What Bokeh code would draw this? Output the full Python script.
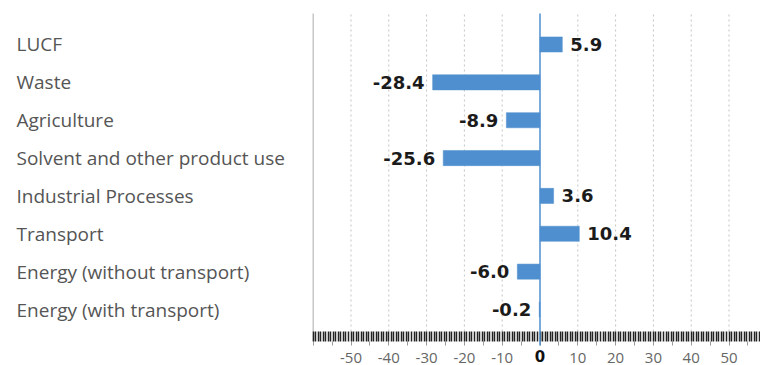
import numpy as np
from bokeh.plotting import figure
from bokeh.models import Range1d, FixedTicker, LinearAxis, ColumnDataSource
from bokeh.core.properties import value
from bokeh.embed import file_html
from bokeh.resources import INLINE

# ---- data ----
categories = [
    "LUCF",
    "Waste",
    "Agriculture",
    "Solvent and other product use",
    "Industrial Processes",
    "Transport",
    "Energy (without transport)",
    "Energy (with transport)",
]
values = [5.9, -28.4, -8.9, -25.6, 3.6, 10.4, -6.0, -0.2]
labelled_ticks = [-50, -40, -30, -20, -10, 10, 20, 30, 40, 50]
half_ticks = [-60, -55, -45, -35, -25, -15, -5, 0, 5, 15, 25, 35, 45, 55]
grid_ticks = [-50, -40, -30, -20, -10, 10, 20, 30, 40, 50]
axis_start, axis_end = -60, 58.33

# ---- layout constants (pixels -> data) ----
W, H = 760, 365
PX_X = 3.78          # px per x unit
PX_Y = 37.86         # px per category
ZERO_PX = 539.5      # page x of the zero line
LAST_PX = 309        # page y of the bottom category
x_lo = -ZERO_PX / PX_X
x_hi = (W - ZERO_PX) / PX_X
y_hi = LAST_PX / PX_Y
y_lo = -(H - LAST_PX) / PX_Y
axis_y = -(341 - LAST_PX) / PX_Y        # bottom of the tick band
band_top = axis_y + 10 / PX_Y
plot_top = (LAST_PX - 13) / PX_Y
zero_bottom = axis_y - 4 / PX_Y

n = len(categories)
ypos = [n - 1 - i for i in range(n)]

BLUE = "#4f8fcf"

p = figure(
    width=W, height=H,
    x_range=Range1d(x_lo, x_hi), y_range=Range1d(y_lo, y_hi),
    output_backend="svg", toolbar_location=None,
    x_axis_location=None, y_axis_location=None,
    min_border=0, min_border_left=0, min_border_right=0, min_border_top=0, min_border_bottom=0,
    outline_line_color=None, background_fill_color="white", border_fill_color="white",
)
p.grid.visible = False

# dotted vertical grid lines (stop at the tick band)
p.segment(x0=grid_ticks, x1=grid_ticks, y0=band_top, y1=plot_top,
          line_color="#c4c4c4", line_dash="2 3", line_width=1)
# left rule
p.segment(x0=[axis_start], x1=[axis_start], y0=axis_y, y1=plot_top,
          line_color="#c8c8c8", line_width=1.5)

# axis with labels and short grey ticks every 5
ax_labels = LinearAxis(fixed_location=axis_y)
ax_labels.ticker = FixedTicker(ticks=labelled_ticks, minor_ticks=half_ticks)
ax_labels.major_label_overrides = {t: str(t) for t in labelled_ticks}
ax_labels.axis_line_color = None
ax_labels.major_tick_in = 0
ax_labels.major_tick_out = 4
ax_labels.major_tick_line_color = "#9a9a9a"
ax_labels.minor_tick_in = 0
ax_labels.minor_tick_out = 4
ax_labels.minor_tick_line_color = "#9a9a9a"
ax_labels.major_label_standoff = 7
ax_labels.major_label_text_font = "Open Sans"
ax_labels.major_label_text_font_size = "15px"
ax_labels.major_label_text_color = "#666666"
p.add_layout(ax_labels, "below")

# dense tick band
dense = list(np.arange(axis_start, axis_end, 10 / 15))
ax_band = LinearAxis(fixed_location=axis_y)
ax_band.ticker = FixedTicker(ticks=[], minor_ticks=dense)
ax_band.axis_line_color = None
ax_band.major_tick_line_color = None
ax_band.minor_tick_in = 10
ax_band.minor_tick_out = 0
ax_band.minor_tick_line_color = "#222222"
ax_band.minor_tick_line_width = 1.5
p.add_layout(ax_band, "below")

# bars
src = ColumnDataSource(dict(
    y=ypos,
    x=values,
    txt=[f"{v:.1f}" for v in values],
    align=["left" if v >= 0 else "right" for v in values],
    xoff=[8 if v >= 0 else -8 for v in values],
))
p.hbar(y="y", left=0, right="x", height=0.4, source=src,
       fill_color=BLUE, line_color=BLUE, line_width=0.5)

p.text(x="x", y="y", text="txt", source=src, text_align="align", x_offset="xoff",
       text_baseline="middle", text_font=value("DejaVu Sans"), text_font_style="bold",
       text_font_size="18px", text_color="#1b1b1b")

# zero line (drawn above the tick band)
zl = p.segment(x0=[0], x1=[0], y0=zero_bottom, y1=plot_top, line_color=BLUE, line_width=1.5)
zl.level = "overlay"

# bold zero tick label
p.text(x=[0], y=[axis_y], text=["0"], y_offset=14, text_align="center",
       text_baseline="middle", text_font=value("DejaVu Sans"), text_font_style="bold",
       text_font_size="15px", text_color="#111111")

# category labels, left aligned
p.text(x=[x_lo] * n, y=ypos, text=categories, x_offset=16, text_align="left",
       text_baseline="middle", text_font=value("Open Sans"),
       text_font_size="19px", text_color="#555555")

open("out.html", "w").write(file_html(p, INLINE))
